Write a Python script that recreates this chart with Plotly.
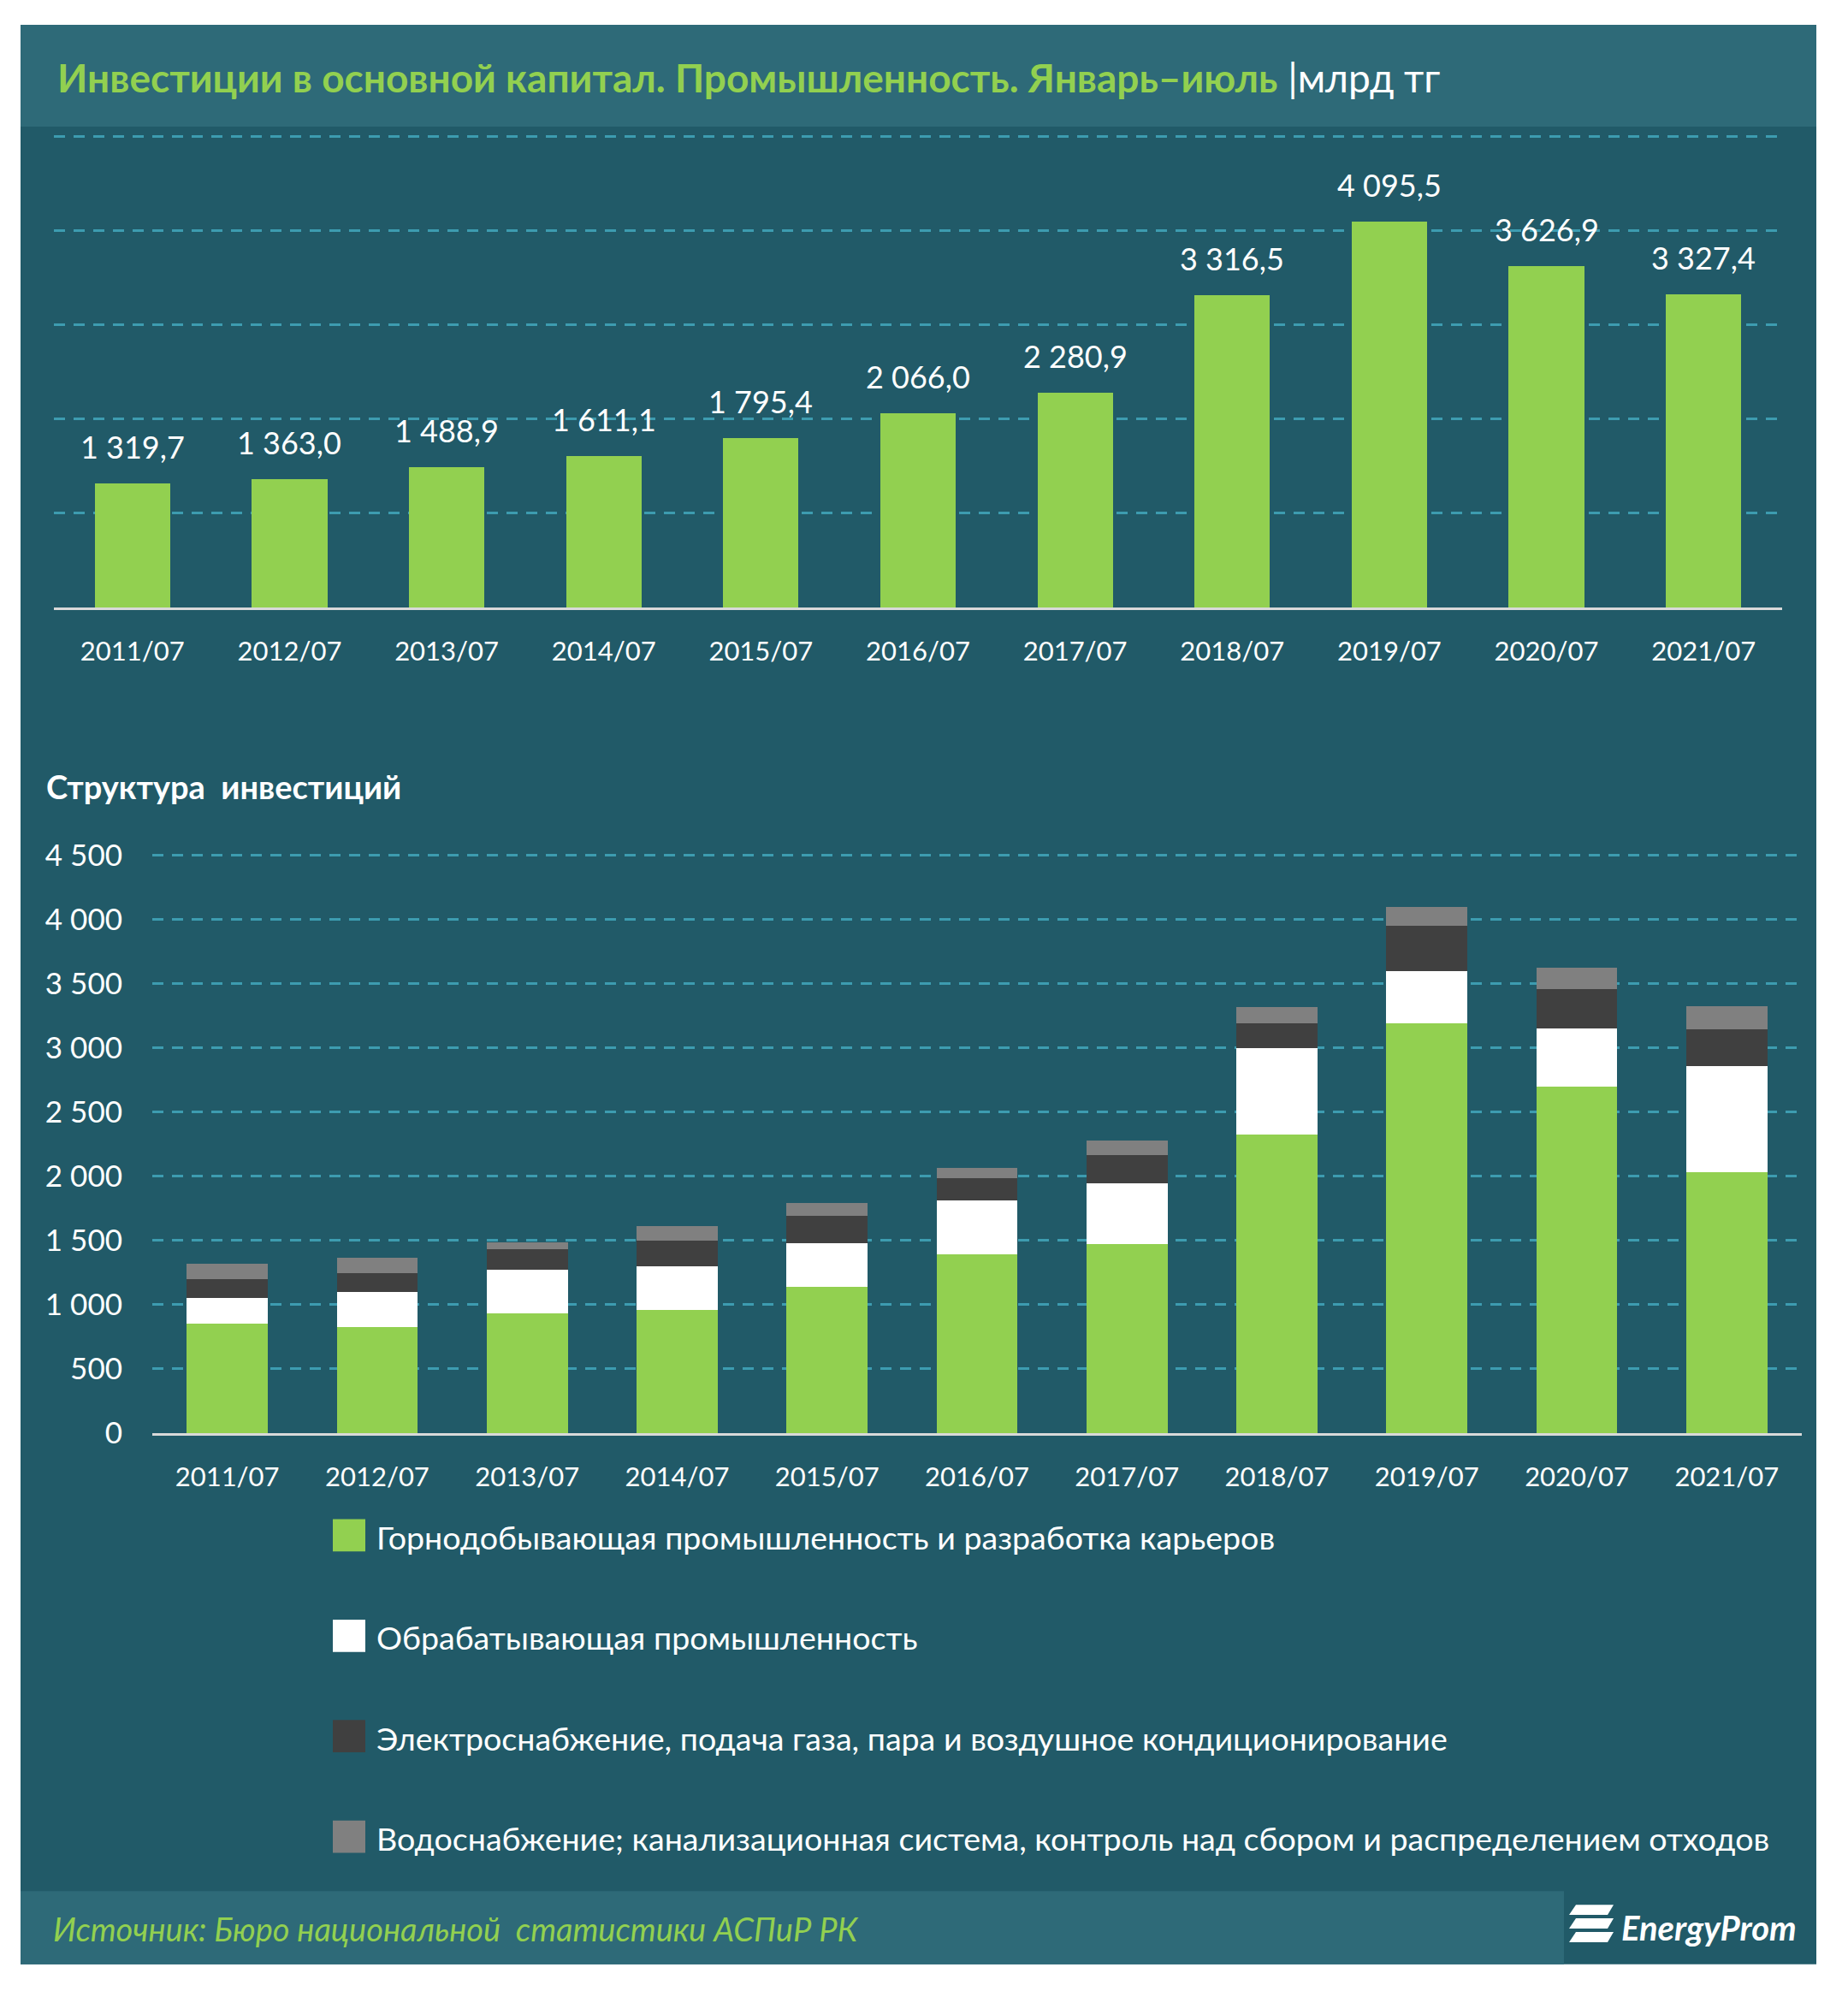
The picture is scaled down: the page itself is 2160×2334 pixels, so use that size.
import plotly.graph_objects as go

# data
periods = ["2011/07", "2012/07", "2013/07", "2014/07", "2015/07", "2016/07",
           "2017/07", "2018/07", "2019/07", "2020/07", "2021/07"]
totals = [1319.7, 1363.0, 1488.9, 1611.1, 1795.4, 2066.0,
          2280.9, 3316.5, 4095.5, 3626.9, 3327.4]

mining = [850, 828, 935, 962, 1140, 1390, 1470, 2325, 3190, 2700, 2035]
manufacturing = [200, 271, 336, 336, 340, 425, 478, 670, 408, 450, 820]
energy = [152, 149, 160, 198, 215, 170, 215, 195, 355, 305, 287]
water = [118, 115, 58, 115, 100, 81, 118, 126, 142, 172, 185]

series_names = [
    "Горнодобывающая промышленность и разработка карьеров",
    "Обрабатывающая промышленность",
    "Электроснабжение, подача газа, пара и воздушное кондиционирование",
    "Водоснабжение; канализационная система, контроль над сбором и распределением отходов",
]
series_values = [mining, manufacturing, energy, water]
series_colors = ["#92D050", "#FFFFFF", "#404040", "#808080"]

W, H = 2160, 2334
OFF = 8  # page body margin
BG = "#215A68"
BAND = "#2E6A78"
GRID = "#3D9CB0"
FONT = "Lato"


def px(x):
    return (x - OFF) / W


def py(y):
    # small vertical correction measured against the reference
    return min(1.0, 1 - (1.0122 * y - 20.8 - OFF) / H)


fig = go.Figure()

# top chart: totals
fig.add_trace(go.Bar(
    x=periods, y=totals, width=0.48,
    marker=dict(color="#92D050", line=dict(width=0)),
    showlegend=False, xaxis="x", yaxis="y",
))

# bottom chart: structure
for name, vals, col in zip(series_names, series_values, series_colors):
    fig.add_trace(go.Bar(
        x=periods, y=vals, name=name, width=0.54,
        marker=dict(color=col, line=dict(width=0)),
        showlegend=False, xaxis="x2", yaxis="y2",
    ))

shapes = [
    # panel background
    dict(type="rect", xref="paper", yref="paper", x0=px(24), x1=px(2123),
         y0=py(2307), y1=py(27), fillcolor=BG, line=dict(width=0), layer="below"),
    # header band
    dict(type="rect", xref="paper", yref="paper", x0=px(24), x1=px(2123),
         y0=py(148), y1=py(27), fillcolor=BAND, line=dict(width=0), layer="below"),
    # footer band
    dict(type="rect", xref="paper", yref="paper", x0=px(24), x1=px(1828),
         y0=py(2307), y1=py(2221), fillcolor=BAND, line=dict(width=0), layer="below"),
]

# logo stripes
for i in range(3):
    y0 = 2237 + i * 16
    shapes.append(dict(
        type="path", xref="paper", yref="paper",
        path="M {a},{b} L {c},{b} L {d},{e} L {f},{e} Z".format(
            a=px(1842), c=px(1886), d=px(1879), f=px(1834),
            b=py(y0), e=py(y0 + 12)),
        fillcolor="white", line=dict(width=0)))

annotations = [
    dict(xref="paper", yref="paper", x=px(65), y=py(90), xanchor="left", yanchor="middle",
         text="<b>Инвестиции в основной капитал. Промышленность. Январь–июль</b> "
              "<span style='color:white'>|млрд тг</span>",
         font=dict(color="#92D050", size=46, family=FONT), showarrow=False),
    dict(xref="paper", yref="paper", x=px(52), y=py(923), xanchor="left", yanchor="middle",
         text="<b>Структура  инвестиций</b>",
         font=dict(color="white", size=38, family=FONT), showarrow=False),
    dict(xref="paper", yref="paper", x=px(60), y=py(2265), xanchor="left", yanchor="middle",
         text="<i>Источник: Бюро национальной  статистики АСПиР РК</i>",
         font=dict(color="#92D050", size=38, family=FONT), showarrow=False),
    dict(xref="paper", yref="paper", x=px(2102), y=py(2264), xanchor="right", yanchor="middle",
         text="<i><b>EnergyProm</b></i>",
         font=dict(color="white", size=40, family=FONT), showarrow=False),
]

# value labels above the top bars
for p, v in zip(periods, totals):
    annotations.append(dict(
        xref="x", yref="y", x=p, y=v, yshift=43, xanchor="center", yanchor="middle",
        text=f"{v:,.1f}".replace(",", " ").replace(".", ","),
        font=dict(color="white", size=36, family=FONT), showarrow=False))

# legend, drawn from the series lists
for i, (name, col) in enumerate(zip(series_names, series_colors)):
    yc = 1803 + 118 * i
    shapes.append(dict(type="rect", xref="paper", yref="paper",
                       x0=px(389), x1=px(427), y0=py(yc + 19), y1=py(yc - 19),
                       fillcolor=col, line=dict(width=0)))
    annotations.append(dict(xref="paper", yref="paper", x=px(438), y=py(yc + 2),
                            xanchor="left", yanchor="middle", text=name,
                            font=dict(color="white", size=37.6, family=FONT),
                            showarrow=False))

xtick_font = dict(color="white", size=31, family=FONT)
ytick_font = dict(color="white", size=35, family=FONT)

# axis ranges stretched a hair so the top gridline is drawn
top_max, bot_max = 5010, 4510
top_top = 713 - (713 - 160) * top_max / 5000
bot_top = 1683 - (1683 - 1004) * bot_max / 4500

fig.update_layout(
    width=W, height=H,
    margin=dict(l=0, r=0, t=0, b=0),
    paper_bgcolor="white", plot_bgcolor="rgba(0,0,0,0)",
    barmode="stack",
    separators=", ",
    font=dict(family=FONT, color="white"),
    shapes=shapes, annotations=annotations,
    xaxis=dict(domain=[px(63), px(2083)], anchor="y", type="category",
               showgrid=False, showline=True, linecolor="#D9D9D9", linewidth=3,
               tickfont=xtick_font, ticks="", ticklabelstandoff=22),
    yaxis=dict(domain=[py(713), py(top_top)], anchor="x", range=[0, top_max], dtick=1000,
               showticklabels=False, showgrid=True, gridcolor=GRID, gridwidth=3,
               griddash="13px,10px", zeroline=False),
    xaxis2=dict(domain=[px(178), px(2106)], anchor="y2", type="category",
                showgrid=False, showline=True, linecolor="#D9D9D9", linewidth=3,
                tickfont=xtick_font, ticks="", ticklabelstandoff=22),
    yaxis2=dict(domain=[py(1683), py(bot_top)], anchor="x2", range=[0, bot_max], dtick=500,
                tickformat=",d", tickfont=ytick_font, ticklabelstandoff=34,
                showgrid=True, gridcolor=GRID, gridwidth=3,
                griddash="13px,10px", zeroline=False),
)

fig.write_html("out.html")
